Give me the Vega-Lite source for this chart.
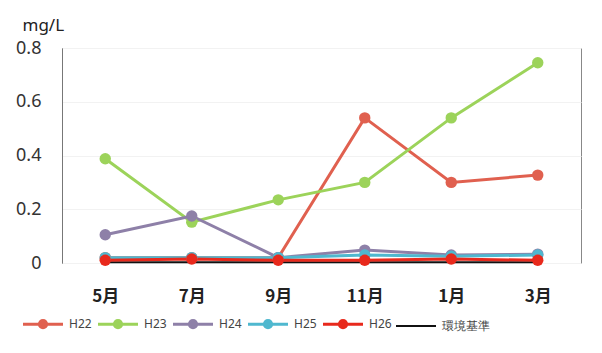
{
  "$schema": "https://vega.github.io/schema/vega-lite/v6.json",
  "width": 519,
  "height": 215,
  "autosize": {"type": "none"},
  "padding": {"left": 62, "top": 48, "right": 21, "bottom": 90},
  "background": "white",
  "data": {
    "values": [
      {"month": "5月", "series": "H22", "value": 0.02},
      {"month": "7月", "series": "H22", "value": 0.02},
      {"month": "9月", "series": "H22", "value": 0.02},
      {"month": "11月", "series": "H22", "value": 0.54},
      {"month": "1月", "series": "H22", "value": 0.30},
      {"month": "3月", "series": "H22", "value": 0.327},
      {"month": "5月", "series": "H23", "value": 0.388},
      {"month": "7月", "series": "H23", "value": 0.152},
      {"month": "9月", "series": "H23", "value": 0.235},
      {"month": "11月", "series": "H23", "value": 0.30},
      {"month": "1月", "series": "H23", "value": 0.54},
      {"month": "3月", "series": "H23", "value": 0.745},
      {"month": "5月", "series": "H24", "value": 0.105},
      {"month": "7月", "series": "H24", "value": 0.175},
      {"month": "9月", "series": "H24", "value": 0.02},
      {"month": "11月", "series": "H24", "value": 0.048},
      {"month": "1月", "series": "H24", "value": 0.03},
      {"month": "3月", "series": "H24", "value": 0.033},
      {"month": "5月", "series": "H25", "value": 0.02},
      {"month": "7月", "series": "H25", "value": 0.02},
      {"month": "9月", "series": "H25", "value": 0.02},
      {"month": "11月", "series": "H25", "value": 0.03},
      {"month": "1月", "series": "H25", "value": 0.025},
      {"month": "3月", "series": "H25", "value": 0.03},
      {"month": "5月", "series": "H26", "value": 0.01},
      {"month": "7月", "series": "H26", "value": 0.015},
      {"month": "9月", "series": "H26", "value": 0.01},
      {"month": "11月", "series": "H26", "value": 0.01},
      {"month": "1月", "series": "H26", "value": 0.015},
      {"month": "3月", "series": "H26", "value": 0.01},
      {"month": "5月", "series": "環境基準", "value": 0.003},
      {"month": "7月", "series": "環境基準", "value": 0.003},
      {"month": "9月", "series": "環境基準", "value": 0.003},
      {"month": "11月", "series": "環境基準", "value": 0.003},
      {"month": "1月", "series": "環境基準", "value": 0.003},
      {"month": "3月", "series": "環境基準", "value": 0.003}
    ]
  },
  "encoding": {
    "x": {
      "field": "month",
      "type": "ordinal",
      "sort": ["5月", "7月", "9月", "11月", "1月", "3月"],
      "scale": {"type": "point", "padding": 0.5},
      "axis": {
        "title": null,
        "labelAngle": 0,
        "labelFont": "Noto Sans CJK JP",
        "labelFontWeight": "bold",
        "labelFontSize": 17,
        "labelColor": "#222",
        "labelPadding": 25,
        "ticks": false,
        "domain": false
      }
    },
    "y": {
      "field": "value",
      "type": "quantitative",
      "scale": {"domain": [0, 0.8], "nice": false},
      "axis": {
        "values": [0, 0.2, 0.4, 0.6, 0.8],
        "labelExpr": "datum.value == 0 ? '0' : format(datum.value, '.1f')",
        "labelFont": "Noto Sans",
        "labelFontSize": 18,
        "labelColor": "#333",
        "labelPadding": 21,
        "ticks": false,
        "domainColor": "#777",
        "grid": true,
        "gridColor": "#f2f2f2",
        "title": "mg/L",
        "titleAngle": 0,
        "titleAlign": "left",
        "titleBaseline": "middle",
        "titleX": -40,
        "titleY": -23,
        "titleFont": "Noto Sans",
        "titleFontSize": 17,
        "titleFontWeight": "normal",
        "titleColor": "#222"
      }
    },
    "color": {
      "field": "series",
      "type": "nominal",
      "scale": {
        "domain": ["H22", "H23", "H24", "H25", "H26", "環境基準"],
        "range": ["#E0604F", "#9CD35A", "#8E80A8", "#4FB8CF", "#E8291C", "#111111"]
      },
      "legend": {
        "title": null,
        "orient": "none",
        "direction": "horizontal",
        "legendX": -25,
        "legendY": 270,
        "symbolSize": 1600,
        "symbolStrokeWidth": 3,
        "labelFont": "Noto Sans",
        "labelFontSize": 12,
        "labelColor": "#444",
        "labelOffset": 20,
        "columnPadding": 0,
        "encode": {
          "symbols": {
            "update": {
              "size": {"value": 1600},
              "shape": {"signal": "datum.value === '環境基準' ? 'M-1,0L1,0' : 'M-1,0L1,0M-0.18,0A0.18,0.18 0 1,0 0.18,0A0.18,0.18 0 1,0 -0.18,0Z'"},
              "stroke": {"scale": "color", "field": "value"},
              "fill": {"scale": "color", "field": "value"},
              "strokeWidth": {"signal": "datum.value === '環境基準' ? 2 : 3"},
              "opacity": {"value": 1}
            }
          }
        }
      }
    }
  },
  "layer": [
    {
      "transform": [{"filter": "datum.series === '環境基準'"}],
      "mark": {"type": "line", "strokeWidth": 2}
    },
    {
      "transform": [{"filter": "datum.series !== '環境基準'"}],
      "mark": {"type": "line", "strokeWidth": 3}
    },
    {
      "transform": [{"filter": "datum.series !== '環境基準'"}],
      "mark": {"type": "point", "filled": true, "size": 130, "opacity": 1}
    }
  ],
  "config": {
    "view": {"stroke": "#888", "strokeWidth": 1}
  }
}
